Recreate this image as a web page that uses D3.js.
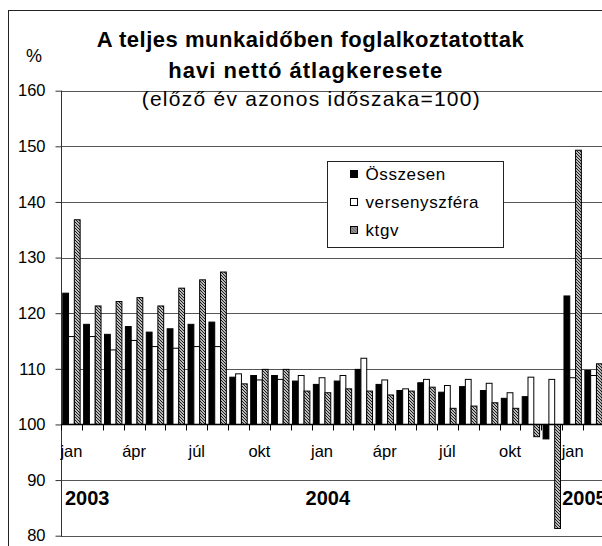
<!DOCTYPE html>
<html>
<head>
<meta charset="utf-8">
<script src="https://cdn.jsdelivr.net/npm/d3@7"></script>
<style>
  body { margin: 0; background: #fff; }
  svg { display: block; font-family: "Liberation Sans", Arial, sans-serif; }
</style>
</head>
<body>
<svg id="chart" width="602" height="546"></svg>
<script>
// months, jan 2003 - febr 2005
var months = ["2003-01", "2003-02", "2003-03", "2003-04", "2003-05", "2003-06",
  "2003-07", "2003-08", "2003-09", "2003-10", "2003-11", "2003-12",
  "2004-01", "2004-02", "2004-03", "2004-04", "2004-05", "2004-06",
  "2004-07", "2004-08", "2004-09", "2004-10", "2004-11", "2004-12",
  "2005-01", "2005-02"];

var monthLabels = ["jan", "", "", "ápr", "", "", "júl", "", "", "okt", "", "",
  "jan", "", "", "ápr", "", "", "júl", "", "", "okt", "", "",
  "jan", ""];

var yearLabels = ["2003", "2004", "2005"];
var yearMonths = ["2003-01", "2004-01", "2005-01"];

var seriesNames = ["Összesen", "versenyszféra", "ktgv"];

var osszesen = [123.6, 118.0, 116.2, 117.6, 116.6, 117.2, 118.0, 118.4, 108.5, 108.8, 108.8, 107.8,
  107.2, 107.8, 109.9, 107.2, 106.1, 107.5, 105.8, 106.8, 106.1, 104.7, 105.0, 97.4,
  123.1, 109.7];
var verseny = [115.8, 115.8, 113.4, 115.1, 114.0, 113.7, 114.0, 114.0, 109.1, 108.0, 108.1, 108.8,
  108.4, 108.8, 111.9, 108.0, 106.4, 108.1, 107.0, 108.1, 107.4, 105.7, 108.5, 108.1,
  108.4, 108.8];
var ktgv = [136.8, 121.3, 122.1, 122.8, 121.3, 124.5, 126.0, 127.4, 107.3, 109.9, 109.9, 106.0,
  105.7, 106.4, 106.0, 105.3, 106.0, 106.7, 102.9, 103.3, 103.9, 102.9, 97.8, 81.3,
  149.3, 110.9];

var yTicks = [80, 90, 100, 110, 120, 130, 140, 150, 160];

var svg = d3.select("#chart");

var plotLeft = 61, plotRight = 604, plotTop = 90.7, plotBottom = 535.7;

var x = d3.scaleBand()
  .domain(months)
  .range([plotLeft, plotRight])
  .padding(0);

var xs = d3.scaleBand()
  .domain(seriesNames)
  .range([0, x.bandwidth()])
  .paddingInner(0)
  .paddingOuter(0.3);

var y = d3.scaleLinear()
  .domain([80, 160])
  .range([plotBottom, plotTop]);

// hatch pattern for ktgv
var defs = svg.append("defs");
var pat = defs.append("pattern")
  .attr("id", "hatch")
  .attr("patternUnits", "userSpaceOnUse")
  .attr("width", 3)
  .attr("height", 3);
pat.append("rect").attr("width", 3).attr("height", 3).attr("fill", "#fff");
pat.append("path")
  .attr("d", "M-1,-1 L4,4 M-1,2 L1,4 M2,-1 L4,1")
  .attr("stroke", "#111")
  .attr("stroke-width", 1.1);

// outer frame
svg.append("rect")
  .attr("x", 8.5).attr("y", 10.5)
  .attr("width", 620).attr("height", 560)
  .attr("fill", "none")
  .attr("stroke", "#222")
  .attr("stroke-width", 1);

// gridlines
svg.append("g")
  .selectAll("line")
  .data(yTicks.filter(function(d) { return d !== 100; }))
  .enter().append("line")
  .attr("x1", plotLeft).attr("x2", 602)
  .attr("y1", function(d) { return Math.round(y(d)) + 0.5; })
  .attr("y2", function(d) { return Math.round(y(d)) + 0.5; })
  .attr("stroke", "#555")
  .attr("stroke-width", 1);

// y axis
var yAxis = svg.append("g")
  .attr("transform", "translate(" + (plotLeft + 0.5) + ",0)")
  .call(d3.axisLeft(y).tickValues(yTicks).tickSize(6).tickPadding(10).tickFormat(d3.format("d")));
yAxis.select(".domain").attr("stroke", "#333").attr("d", "M0," + plotTop + "V" + (plotBottom + 1));
yAxis.selectAll(".tick line").attr("stroke", "#333");
yAxis.selectAll("text")
  .attr("font-size", 16.5)
  .attr("fill", "#000")
  .attr("font-family", "Liberation Sans, Arial, sans-serif");

svg.append("text")
  .attr("x", 34).attr("y", 62)
  .attr("text-anchor", "middle")
  .attr("font-size", 18)
  .text("%");

// bars
var series = [
  { name: seriesNames[0], values: osszesen, fill: "#000" },
  { name: seriesNames[1], values: verseny, fill: "#fff" },
  { name: seriesNames[2], values: ktgv, fill: "url(#hatch)" }
];

var groups = svg.append("g").selectAll("g")
  .data(series)
  .enter().append("g")
  .attr("fill", function(d) { return d.fill; });

groups.selectAll("rect")
  .data(function(s) { return s.values.map(function(v, i) { return { name: s.name, v: v, m: months[i] }; }); })
  .enter().append("rect")
  .attr("x", function(d) { return x(d.m) + xs(d.name); })
  .attr("width", xs.bandwidth())
  .attr("y", function(d) { return y(Math.max(d.v, 100)); })
  .attr("height", function(d) { return Math.abs(y(d.v) - y(100)); })
  .attr("stroke", "#000")
  .attr("stroke-width", 1);

// x axis at 100
var xAxis = svg.append("g")
  .attr("transform", "translate(0," + y(100) + ")");
xAxis.append("line")
  .attr("x1", plotLeft).attr("x2", 602)
  .attr("stroke", "#000").attr("stroke-width", 1.5);
xAxis.selectAll(".tk")
  .data(months)
  .enter().append("line")
  .attr("class", "tk")
  .attr("x1", function(d) { return Math.round(x(d)) + 0.5; })
  .attr("x2", function(d) { return Math.round(x(d)) + 0.5; })
  .attr("y1", 0).attr("y2", 6)
  .attr("stroke", "#000");
xAxis.selectAll(".lbl")
  .data(months)
  .enter().append("text")
  .attr("class", "lbl")
  .attr("x", function(d) { return x(d) + x.bandwidth() / 2; })
  .attr("y", 33)
  .attr("text-anchor", "middle")
  .attr("font-size", 16.5)
  .text(function(d, i) { return monthLabels[i]; });

// year labels
var yearDx = [4, -6, 0];
svg.selectAll(".year")
  .data(yearLabels)
  .enter().append("text")
  .attr("class", "year")
  .attr("x", function(d, i) { return x(yearMonths[i]) + yearDx[i]; })
  .attr("y", 505)
  .attr("font-size", 20)
  .attr("font-weight", "bold")
  .text(function(d) { return d; });

// title
svg.append("text")
  .attr("x", 96.7).attr("y", 47)
  .attr("font-size", 22)
  .attr("font-weight", "bold")
  .attr("textLength", 427)
  .attr("lengthAdjust", "spacing")
  .text("A teljes munkaidőben foglalkoztatottak");
svg.append("text")
  .attr("x", 168.3).attr("y", 78)
  .attr("font-size", 22)
  .attr("font-weight", "bold")
  .attr("textLength", 274)
  .attr("lengthAdjust", "spacing")
  .text("havi nettó átlagkeresete");
svg.append("text")
  .attr("x", 141.7).attr("y", 106)
  .attr("font-size", 21)
  .attr("textLength", 338)
  .attr("lengthAdjust", "spacing")
  .text("(előző év azonos időszaka=100)");

// legend
var lg = svg.append("g").attr("transform", "translate(327.5,161.5)");
lg.append("rect")
  .attr("width", 176).attr("height", 86)
  .attr("fill", "#fff")
  .attr("stroke", "#222");
var li = lg.selectAll(".li")
  .data(series)
  .enter().append("g")
  .attr("transform", function(d, i) { return "translate(23," + (9 + i * 28) + ")"; });
li.append("rect")
  .attr("width", 7).attr("height", 7)
  .attr("fill", function(d) { return d.fill; })
  .attr("stroke", "#000");
li.append("text")
  .attr("x", 15).attr("y", 9)
  .attr("font-size", 17)
  .attr("letter-spacing", 0.6)
  .text(function(d) { return d.name; });
</script>
</body>
</html>
